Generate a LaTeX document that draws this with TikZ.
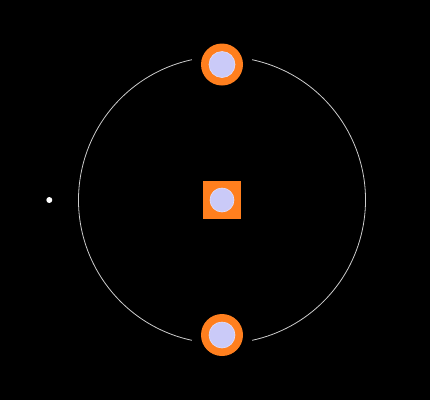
\documentclass[tikz,border=0pt]{standalone}
\usetikzlibrary{calc}
\begin{document}
\begin{tikzpicture}[x=1pt,y=-1pt,
  pad/.style={circle,fill=padorange,minimum size=42pt,inner sep=0pt},
  sqpad/.style={rectangle,fill=padorange,minimum size=38pt,inner sep=0pt},
  hole/.style={circle,fill=holelav,draw=holeedge,line width=0.6pt,inner sep=0pt},
  ring/.style={draw=ringgray,line width=0.8pt},
  dot/.style={circle,fill=white,minimum size=6pt,inner sep=0pt}]
\definecolor{padorange}{HTML}{FF7F1E}
\definecolor{holelav}{HTML}{CACAF8}
\definecolor{holeedge}{HTML}{E0E0FF}
\definecolor{ringgray}{HTML}{CCCCCC}
\fill[black] (0,0) rectangle (430,400);
\useasboundingbox (0,0) rectangle (430,400);
\coordinate (c) at (222,200);
\draw[ring] ($(c)+(-77.9:143.5)$) arc[start angle=-77.9,end angle=77.9,radius=143.5];
\draw[ring] ($(c)+(102.1:143.5)$) arc[start angle=102.1,end angle=257.9,radius=143.5];
\node[pad] (top) at (222,64.5) {};
\node[hole,minimum size=26pt] (toph) at (top) {};
\node[pad] (bot) at (222,335) {};
\node[hole,minimum size=26pt] (both) at (bot) {};
\node[sqpad] (mid) at (222,200) {};
\node[hole,minimum size=24pt] (midh) at (mid) {};
\node[dot] (pt) at (49.3,200) {};
\end{tikzpicture}
\end{document}
